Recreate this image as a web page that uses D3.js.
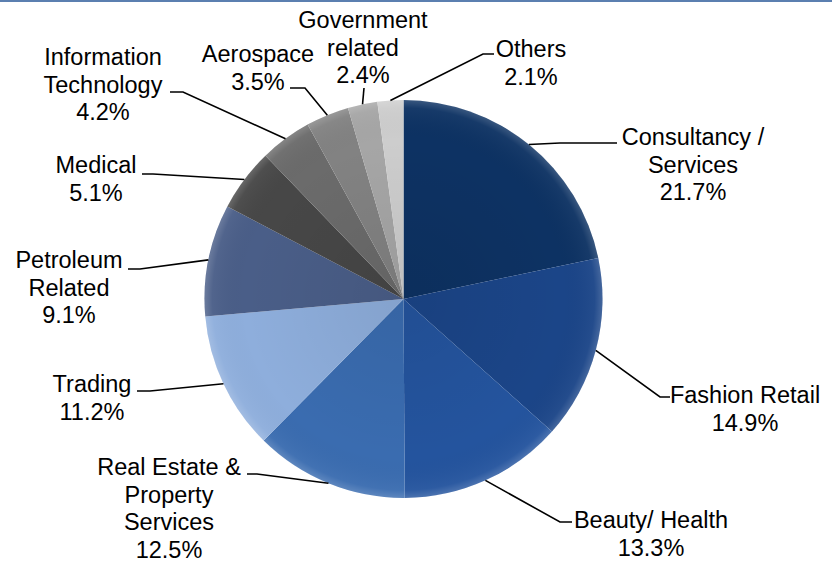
<!DOCTYPE html>
<html>
<head>
<meta charset="utf-8">
<script src="https://cdn.jsdelivr.net/npm/d3@7"></script>
<style>
  html, body { margin: 0; padding: 0; background: #fff; }
  svg { display: block; }
  text { font-family: "Liberation Sans", Arial, sans-serif; font-size: 23.5px; fill: #000; }
</style>
</head>
<body>
<svg id="chart" width="832" height="562"></svg>
<script>
// Sectors and their share of the total (%)
const categories = [
  "Consultancy / Services", "Fashion Retail", "Beauty/ Health",
  "Real Estate & Property Services", "Trading", "Petroleum Related",
  "Medical", "Information Technology", "Aerospace",
  "Government related", "Others"
];
const shares = [21.7, 14.9, 13.3, 12.5, 11.2, 9.1, 5.1, 4.2, 3.5, 2.4, 2.1];

// How each category name wraps in its label
const nameLines = [
  ["Consultancy /", "Services"],
  ["Fashion Retail"],
  ["Beauty/ Health"],
  ["Real Estate &", "Property", "Services"],
  ["Trading"],
  ["Petroleum", "Related"],
  ["Medical"],
  ["Information", "Technology"],
  ["Aerospace"],
  ["Government", "related"],
  ["Others"]
];

const sliceColors = [
  "#0d3263", "#1b4588", "#24549e", "#3a6cb0", "#8eaedc", "#4a5e88",
  "#474747", "#6b6b6b", "#828282", "#a6a6a6", "#cdcdcd"
];

// Label placement: text centre x, first baseline y, leader elbow and end point
const labelLayout = [
  { cx: 693, y0: 145,   elbow: [560, 143], end: [617, 143] },
  { cx: 745, y0: 403,   elbow: [660, 397], end: [670, 397] },
  { cx: 651, y0: 528,   elbow: [560, 522], end: [572, 522] },
  { cx: 169, y0: 475,   elbow: [257, 474], end: [247, 474] },
  { cx: 92,  y0: 392,   elbow: [150, 391], end: [137, 391] },
  { cx: 69,  y0: 268,   elbow: [140, 269], end: [128, 269] },
  { cx: 96,  y0: 173,   elbow: [153, 174], end: [142, 174] },
  { cx: 103, y0: 65,    elbow: [183, 92],  end: [170, 92] },
  { cx: 258, y0: 62,    elbow: [305, 88],  end: [290, 88] },
  { cx: 363, y0: 28,    elbow: [364, 88],  end: [364, 88] },
  { cx: 531, y0: 57,    elbow: [483, 54],  end: [494, 54] }
];
const lineGap = 27.5;

const svg = d3.select("#chart");
const cx = 403.5, cy = 299, R = 199;

// top rule
svg.append("rect").attr("x", 0).attr("y", 0).attr("width", 832).attr("height", 2)
  .attr("fill", "#5b7fb0");

const color = d3.scaleOrdinal().domain(categories).range(sliceColors);
const pie = d3.pie().sort(null).value(d => d.value);
const arcs = pie(categories.map((c, i) => ({ name: c, value: shares[i], idx: i })));
const arc = d3.arc().innerRadius(0).outerRadius(R);
const rim = d3.arc().innerRadius(R).outerRadius(R);

const defs = svg.append("defs");
const shade = defs.append("radialGradient").attr("id", "shade")
  .attr("cx", "50%").attr("cy", "50%").attr("r", "50%");
shade.append("stop").attr("offset", "0%").attr("stop-color", "#000").attr("stop-opacity", 0.07);
shade.append("stop").attr("offset", "80%").attr("stop-color", "#000").attr("stop-opacity", 0);
shade.append("stop").attr("offset", "96%").attr("stop-color", "#fff").attr("stop-opacity", 0.04);
shade.append("stop").attr("offset", "100%").attr("stop-color", "#fff").attr("stop-opacity", 0.18);

const g = svg.append("g").attr("transform", `translate(${cx},${cy})`);
g.selectAll("path.slice")
  .data(arcs)
  .join("path")
  .attr("class", "slice")
  .attr("d", arc)
  .attr("fill", d => color(d.data.name));

g.append("circle").attr("r", R).attr("fill", "url(#shade)");

// leader lines
const leader = d3.line();
svg.selectAll("path.leader")
  .data(arcs)
  .join("path")
  .attr("class", "leader")
  .attr("d", d => {
    const p = rim.centroid(d);
    const L = labelLayout[d.data.idx];
    return leader([[cx + p[0], cy + p[1]], L.elbow, L.end]);
  })
  .attr("fill", "none")
  .attr("stroke", "#000")
  .attr("stroke-width", 1.6);

// labels: name lines followed by the percentage
const labels = svg.selectAll("text.label")
  .data(arcs)
  .join("text")
  .attr("class", "label")
  .attr("text-anchor", "middle");

labels.each(function (d) {
  const i = d.data.idx;
  const L = labelLayout[i];
  const lines = nameLines[i].concat([d3.format(".1f")(d.data.value) + "%"]);
  d3.select(this).selectAll("tspan")
    .data(lines)
    .join("tspan")
    .attr("x", L.cx)
    .attr("y", (t, k) => L.y0 + k * lineGap)
    .text(t => t);
});
</script>
</body>
</html>
